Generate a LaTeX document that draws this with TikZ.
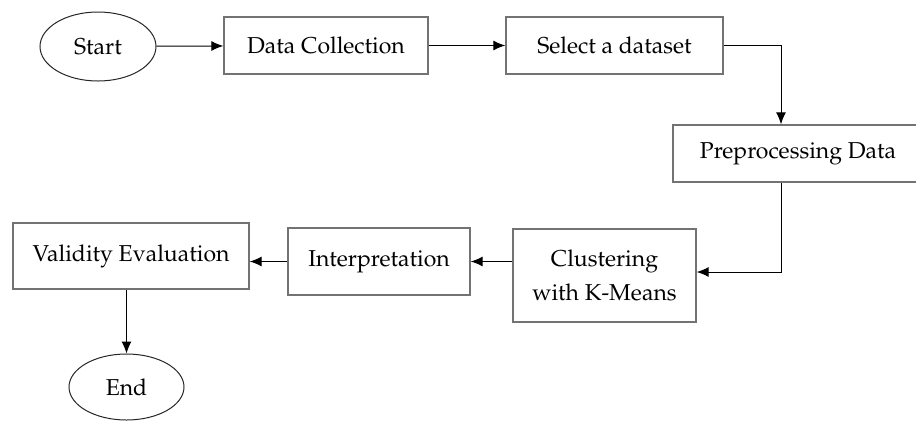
\documentclass[tikz,border=0pt]{standalone}
\usepackage[T1]{fontenc}
\usepackage{mathpazo}
\usetikzlibrary{arrows.meta,shapes.geometric}

\tikzset{
  box/.style={draw=black!55,line width=1.4pt,inner sep=2pt,align=center},
  oval/.style={ellipse,draw=black!85,line width=1pt},
}

\begin{document}
\begin{tikzpicture}[x=1pt,y=-1pt,>={Latex[length=12pt,width=10pt]},line width=1pt]
\fontsize{23}{34}\selectfont
\useasboundingbox (0,0) rectangle (916,421);
\node[oval,minimum width=116,minimum height=69](1) at (98,46.5) {Start};
\node[box,minimum width=204,minimum height=57](2) at (326,45.5) {Data Collection};
\node[box,minimum width=217,minimum height=57](3) at (614.5,45.5) {Select a dataset};
\node[box,minimum width=250,minimum height=57](4) at (798,153.5) {Preprocessing Data};
\node[box,minimum width=183,minimum height=93](5) at (604.5,275.5) {Clustering\\with K-Means};
\node[box,minimum width=182,minimum height=67](6) at (379,261.5) {Interpretation};
\node[box,minimum width=236,minimum height=66](7) at (131,256) {Validity Evaluation};
\node[oval,minimum width=115,minimum height=66](8) at (126.5,387) {End};
\coordinate (c) at (781,0);

\draw[->] (1) -- (2);
\draw[->] (2) -- (3);
\draw[->] (3.east) -| (c |- 4.north);
\draw[->] (c |- 4.south) |- ([yshift=3.5]5.east);
\draw[->] (5.west |- 6.east) -- (6.east);
\draw[->] (6.west) -- (7.east |- 6.west);
\draw[->] (7.south -| 8.north) -- (8.north);

\end{tikzpicture}
\end{document}
